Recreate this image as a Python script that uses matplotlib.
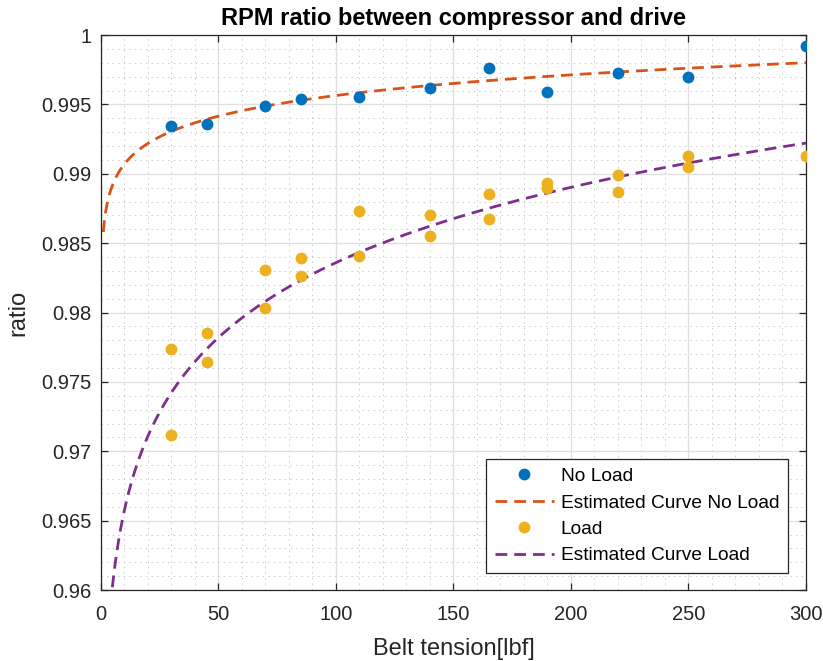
import numpy as np
from matplotlib import pyplot as plt
from matplotlib.ticker import MultipleLocator, FuncFormatter

tension_noload = [30, 45, 70, 85, 110, 140, 165, 190, 220, 250, 300]
ratio_noload = [0.99344, 0.99356, 0.99491, 0.99539, 0.99556, 0.99618,
                0.99764, 0.99591, 0.99728, 0.99700, 0.99921]

tension_load = [30, 30, 45, 45, 70, 70, 85, 85, 110, 110, 140, 140,
                165, 165, 190, 190, 220, 220, 250, 250, 300]
ratio_load = [0.97737, 0.97117, 0.97855, 0.97643, 0.98306, 0.98032,
              0.98395, 0.98263, 0.98732, 0.98407, 0.98703, 0.98551,
              0.98852, 0.98674, 0.98931, 0.98895, 0.98991, 0.98871,
              0.99128, 0.99051, 0.99128]

# coeficientes del ajuste ratio = a * x^b
fit_noload = (0.9858, 0.002157)
fit_load = (0.94828, 0.00794)

x_ticks = [0, 50, 100, 150, 200, 250, 300]
y_ticks = [0.96, 0.965, 0.97, 0.975, 0.98, 0.985, 0.99, 0.995, 1.0]

plt.rcParams['font.family'] = ['Liberation Sans', 'DejaVu Sans']
plt.rcParams['lines.scale_dashes'] = False

fig = plt.figure(figsize=(8.23, 6.61), dpi=100)
ax = fig.add_axes([0.1227, 0.1074, 0.8566, 0.8396])

x_fit = np.linspace(1, 300, 600)

ax.plot(tension_noload, ratio_noload, 'o', color='#0072BD', markersize=7.5,
        label='No Load', zorder=3)
ax.plot(x_fit, fit_noload[0] * x_fit ** fit_noload[1], color='#D95319',
        linewidth=2, dashes=(8.5, 5), label='Estimated Curve No Load', zorder=2)
ax.plot(tension_load, ratio_load, 'o', color='#EDB120', markersize=7.5,
        label='Load', zorder=3)
ax.plot(x_fit, fit_load[0] * x_fit ** fit_load[1], color='#7E2F8E',
        linewidth=2, dashes=(8.5, 5), label='Estimated Curve Load', zorder=2)

ax.set_xlim(0, 300)
ax.set_ylim(0.96, 1.0)
ax.set_xticks(x_ticks)
ax.set_yticks(y_ticks)
ax.yaxis.set_major_formatter(FuncFormatter(lambda v, p: '%g' % round(v, 4)))
ax.xaxis.set_minor_locator(MultipleLocator(10))
ax.yaxis.set_minor_locator(MultipleLocator(0.001))

ax.grid(which='major', color='#dfdfdf', linewidth=0.9, linestyle='-')
ax.grid(which='minor', color='#c8c8c8', linewidth=0.7, linestyle=(0, (1, 3)))
ax.set_axisbelow(True)

for s in ax.spines.values():
    s.set_color('#262626')
    s.set_linewidth(0.9)
ax.tick_params(which='major', direction='in', length=5, width=0.9,
               top=True, right=True, labelsize=14.5, colors='#262626')
ax.tick_params(axis='x', which='major', pad=11)
ax.tick_params(axis='y', which='major', pad=7)
ax.tick_params(which='minor', length=0)

ax.set_title('RPM ratio between compressor and drive', fontsize=17,
             fontweight='bold', pad=7)
ax.set_xlabel('Belt tension[lbf]', fontsize=17, color='#262626', labelpad=10)
ax.set_ylabel('ratio', fontsize=17, color='#262626', labelpad=8)

leg = ax.legend(loc='lower right', bbox_to_anchor=(0.9745, 0.0306),
                borderaxespad=0, fontsize=13.8,
                handlelength=3.1, handletextpad=0.35, borderpad=0.45,
                labelspacing=0.47, fancybox=False, framealpha=1,
                edgecolor='#262626')
leg.get_frame().set_linewidth(0.9)

fig.savefig('out.png', dpi=100)
